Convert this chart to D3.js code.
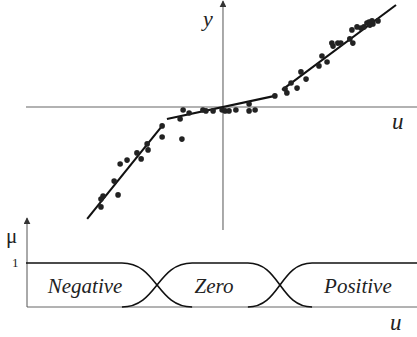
<!DOCTYPE html>
<html>
<head>
<meta charset="utf-8">
<script src="https://cdn.jsdelivr.net/npm/d3@7"></script>
<style>
  html, body { margin: 0; padding: 0; background: #fff; }
  svg { display: block; }
</style>
</head>
<body>
<svg id="chart"></svg>
<script>
const width = 417;
const height = 337;
const serif = "Liberation Serif";

// scatter samples (u, y)
const pointU = [-2.03, -2.03, -2.53, -2.50, -2.87, -2.73, -3.20, -3.43, -3.63, -4.00, -4.07, -3.50, -4.07,
  -1.33, -1.13, -1.43, -1.37, -0.67, -0.57, -0.33, -0.03, 0.07, 0.20, 0.43, 0.87, 0.87, 1.07, 1.73,
  2.07, 2.13, 2.27, 2.47, 2.60, 2.77, 3.20, 3.30, 3.47, 3.63, 3.67, 3.83, 3.93, 4.23, 4.30, 4.33,
  4.47, 4.60, 4.70, 4.80, 4.87, 4.90, 5.00, 5.17, 4.97];
const pointY = [-0.63, -1.00, -1.23, -1.43, -1.53, -1.73, -1.77, -1.90, -2.47, -2.97, -3.07, -2.93, -3.33,
  -0.10, -0.20, -0.40, -1.07, -0.10, -0.13, -0.13, -0.10, -0.13, -0.13, -0.10, 0.10, -0.13, -0.10, 0.37,
  0.60, 0.47, 0.80, 0.63, 1.17, 0.93, 1.37, 1.70, 1.50, 2.13, 2.03, 2.13, 2.13, 2.27, 2.57, 2.13,
  2.67, 2.63, 2.67, 2.80, 2.83, 2.73, 2.77, 2.87, 2.87];

// local linear models: [u0, y0, u1, y1]
const segments = [
  [-4.53, -3.73, -2.03, -0.63],
  [-1.87, -0.40, 1.73, 0.37],
  [1.97, 0.57, 5.77, 3.40]
];

// fuzzy sets
const setNames = ["Negative", "Zero", "Positive"];
const setLabelU = [-4.6, -0.3, 4.5];
const setCorners = [
  [[-6.57, 1], [-3.37, 1], [-1.03, 0]],
  [[-3.37, 0], [-1.03, 1], [0.83, 1], [2.97, 0]],
  [[0.83, 0], [2.97, 1], [6.47, 1]]
];

const svg = d3.select("#chart")
  .attr("width", width)
  .attr("height", height);

const x = d3.scaleLinear().domain([-6.57, 6.47]).range([26, 417]);
const y = d3.scaleLinear().domain([-4.1, 3.5]).range([230, 2]);
const mu = d3.scaleLinear().domain([0, 1]).range([307, 263]);

// arrowhead
svg.append("defs").append("marker")
  .attr("id", "arrow")
  .attr("viewBox", "0 0 10 10")
  .attr("refX", 9).attr("refY", 5)
  .attr("markerWidth", 7).attr("markerHeight", 7)
  .attr("markerUnits", "userSpaceOnUse")
  .attr("orient", "auto")
  .append("path")
  .attr("d", "M0,0 L10,5 L0,10 z")
  .attr("fill", "#333");

const label = (tx, ty, size, txt, italic) => svg.append("text")
  .attr("x", tx).attr("y", ty)
  .attr("font-family", serif)
  .attr("font-size", size)
  .attr("font-style", italic ? "italic" : "normal")
  .attr("fill", "#222")
  .text(txt);

// top chart axes
svg.append("line")
  .attr("x1", x(-6.57)).attr("x2", x(6.47))
  .attr("y1", y(0)).attr("y2", y(0))
  .attr("stroke", "#999").attr("stroke-width", 1.5);

svg.append("line")
  .attr("x1", x(0)).attr("x2", x(0))
  .attr("y1", 230).attr("y2", 1)
  .attr("stroke", "#555").attr("stroke-width", 1)
  .attr("marker-end", "url(#arrow)");

label(203, 26, 22, "y", true);
label(392, 129, 23, "u", true);

// fitted segments
svg.append("g")
  .selectAll("line")
  .data(segments)
  .join("line")
  .attr("x1", d => x(d[0])).attr("y1", d => y(d[1]))
  .attr("x2", d => x(d[2])).attr("y2", d => y(d[3]))
  .attr("stroke", "#111").attr("stroke-width", 2.1);

// samples
svg.append("g")
  .selectAll("circle")
  .data(d3.range(pointU.length))
  .join("circle")
  .attr("cx", i => x(pointU[i]))
  .attr("cy", i => y(pointY[i]))
  .attr("r", 2.8)
  .attr("fill", "#222");

// bottom chart axes
svg.append("line")
  .attr("x1", x(-6.57) + 1).attr("x2", x(6.47))
  .attr("y1", mu(0)).attr("y2", mu(0))
  .attr("stroke", "#666").attr("stroke-width", 1);

svg.append("line")
  .attr("x1", x(-6.57) + 1).attr("x2", x(-6.57) + 1)
  .attr("y1", mu(0)).attr("y2", 218)
  .attr("stroke", "#555").attr("stroke-width", 1)
  .attr("marker-end", "url(#arrow)");

label(6, 243, 21, "μ", false);
label(12, 267, 13, "1", false);
label(390, 330, 23, "u", true);

// membership curves
const curve = d3.line()
  .x(d => x(d[0]))
  .y(d => mu(d[1]))
  .curve(d3.curveBumpX);

svg.append("g")
  .selectAll("path")
  .data(setCorners)
  .join("path")
  .attr("d", curve)
  .attr("fill", "none")
  .attr("stroke", "#111")
  .attr("stroke-width", 1.6);

svg.append("g")
  .selectAll("text")
  .data(setNames)
  .join("text")
  .attr("x", (d, i) => x(setLabelU[i]))
  .attr("y", 293)
  .attr("text-anchor", "middle")
  .attr("font-family", serif)
  .attr("font-size", 21)
  .attr("font-style", "italic")
  .attr("fill", "#222")
  .text(d => d);
</script>
</body>
</html>
